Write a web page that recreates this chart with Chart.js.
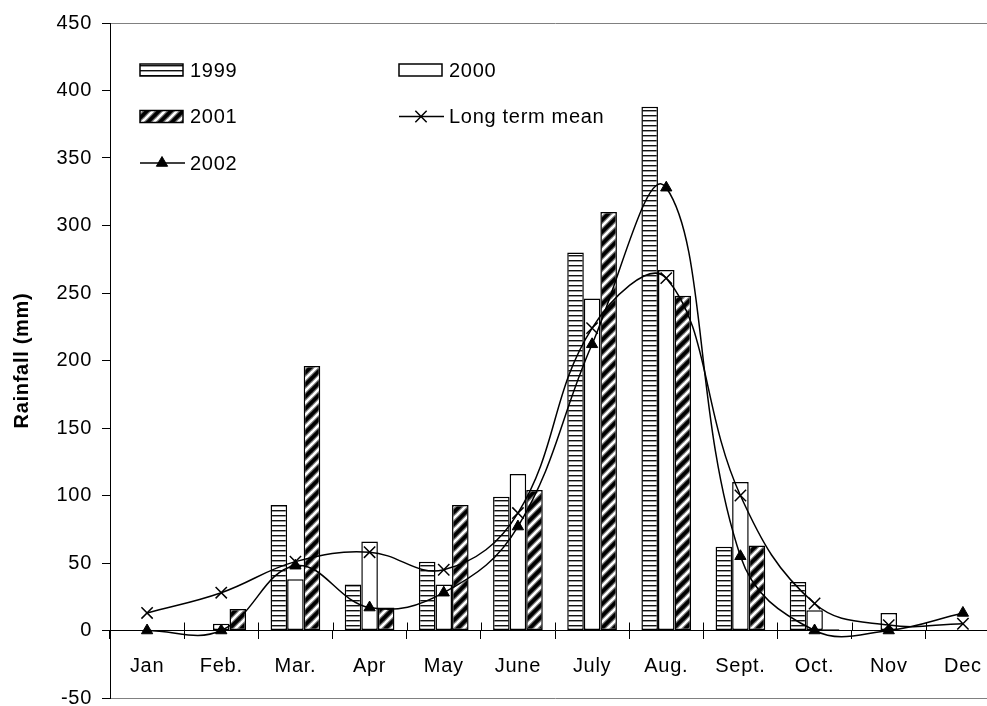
<!DOCTYPE html>
<html>
<head>
<meta charset="utf-8">
<title>Monthly rainfall</title>
<script src="https://cdn.jsdelivr.net/npm/chart.js@4/dist/chart.umd.js"></script>
<style>
  html, body { margin: 0; padding: 0; background: #fff; overflow: hidden; width: 987px; height: 706px; }
  canvas { display: block; }
</style>
</head>
<body>
<canvas id="rain" width="1010" height="720"></canvas>
<script>
// Monthly rainfall (mm)
const months = ['Jan', 'Feb.', 'Mar.', 'Apr', 'May', 'June', 'July', 'Aug.', 'Sept.', 'Oct.', 'Nov', 'Dec'];
const rain1999 = [0, 0, 93, 34, 51, 99, 280, 388, 62, 36, 0, 0];
const rain2000 = [0, 5, 38, 66, 34, 116, 246, 267, 110, 15, 13, 0];
const rain2001 = [0, 16, 196, 17, 93, 104, 310, 248, 63, 1, 0, 0];
const longTermMean = [13, 28, 51, 58, 45, 87, 224, 261, 100, 20, 4, 5];
const rain2002 = [0, 0, 48, 17, 28, 77, 212, 328, 55, 0, 0, 13];
const yMin = -50, yMax = 450, yStep = 50;

const FONT = '"Liberation Sans", Arial, Helvetica, sans-serif';
const FONT_SIZE = 20;
const SPACING = '0.7px';

// Fill patterns for the bar series
function horizontalLines() {
  const c = document.createElement('canvas');
  c.width = 8; c.height = 5;
  const g = c.getContext('2d');
  g.fillStyle = '#fff'; g.fillRect(0, 0, 8, 5);
  g.fillStyle = '#111'; g.fillRect(0, 0, 8, 1);
  g.fillStyle = '#9a9a9a'; g.fillRect(0, 1, 8, 1);
  return g.createPattern(c, 'repeat');
}
function diagonalStripes() {
  const n = 12;
  const c = document.createElement('canvas');
  c.width = n; c.height = n;
  const g = c.getContext('2d');
  g.fillStyle = '#000'; g.fillRect(0, 0, n, n);
  const segs = [[-3, n + 3, n + 3, -3], [-3, 3, 3, -3], [n - 3, n + 3, n + 3, n - 3]];
  [['#6a6a6a', 5], ['#fff', 2.6]].forEach(([col, w]) => {
    g.strokeStyle = col; g.lineWidth = w;
    segs.forEach(s => { g.beginPath(); g.moveTo(s[0], s[1]); g.lineTo(s[2], s[3]); g.stroke(); });
  });
  return g.createPattern(c, 'repeat');
}

const spacingPlugin = {
  id: 'textSpacing',
  beforeUpdate(chart) { chart.ctx.letterSpacing = SPACING; },
  beforeDraw(chart) { chart.ctx.letterSpacing = SPACING; }
};

// Tick marks crossing the category axis at category boundaries (upper half)
const crossTicks = {
  id: 'crossTicks',
  afterDatasetsDraw(chart) {
    const xs = chart.scales.x, ys = chart.scales.y, ctx = chart.ctx;
    const y0 = ys.getPixelForValue(0);
    const half = (xs.getPixelForValue(1) - xs.getPixelForValue(0)) / 2;
    ctx.save();
    ctx.strokeStyle = '#000'; ctx.lineWidth = 1;
    ctx.beginPath();
    for (let i = 0; i <= months.length; i++) {
      const x = Math.round(xs.getPixelForValue(i) - half) + 0.5;
      ctx.moveTo(x, y0 - 8); ctx.lineTo(x, y0);
    }
    ctx.stroke();
    ctx.restore();
  }
};

function drawMarker(ctx, style, x, y, r) {
  ctx.beginPath();
  if (style === 'crossRot') {
    const d = r * Math.SQRT1_2;
    ctx.moveTo(x - d, y - d); ctx.lineTo(x + d, y + d);
    ctx.moveTo(x - d, y + d); ctx.lineTo(x + d, y - d);
    ctx.stroke();
  } else if (style === 'triangle') {
    const s = r * Math.sqrt(3);
    ctx.moveTo(x, y - r); ctx.lineTo(x + s / 2, y + r / 2); ctx.lineTo(x - s / 2, y + r / 2);
    ctx.closePath(); ctx.fill(); ctx.stroke();
  }
}

// Two-column legend inside the plot area
const gridLegend = {
  id: 'gridLegend',
  afterDraw(chart) {
    const ctx = chart.ctx, area = chart.chartArea;
    const x0 = area.left + 30, y0 = area.top + 47, colGap = 259, rowGap = 46.5;
    ctx.save();
    ctx.letterSpacing = SPACING;
    ctx.font = FONT_SIZE + 'px ' + FONT;
    ctx.textBaseline = 'middle';
    chart.data.datasets.forEach((ds, i) => {
      const x = x0 + (i % 2) * colGap, y = y0 + Math.floor(i / 2) * rowGap;
      ctx.strokeStyle = '#000'; ctx.fillStyle = '#000';
      if (ds.type === 'bar') {
        ctx.fillStyle = ds.backgroundColor;
        ctx.fillRect(x, y - 6, 43, 12);
        ctx.lineWidth = 1.5;
        ctx.strokeRect(x, y - 6, 43, 12);
      } else {
        ctx.lineWidth = 1.5;
        ctx.beginPath(); ctx.moveTo(x, y); ctx.lineTo(x + 45, y); ctx.stroke();
        ctx.fillStyle = '#000';
        ctx.lineWidth = ds.pointBorderWidth;
        drawMarker(ctx, ds.pointStyle, x + 22, y, ds.pointRadius);
      }
      ctx.fillStyle = '#000';
      ctx.fillText(ds.label, x + 50, y + 1);
    });
    ctx.restore();
  }
};

Chart.defaults.font.family = FONT;
Chart.defaults.font.size = FONT_SIZE;
Chart.defaults.color = '#000';

const barCommon = { type: 'bar', borderColor: '#000', borderWidth: 1.5, borderSkipped: false,
  barPercentage: 1, categoryPercentage: 0.67, order: 2 };
const lineCommon = { type: 'line', borderColor: '#000', borderWidth: 1.5, tension: 0.4, fill: false,
  pointBorderColor: '#000', pointBackgroundColor: '#000', order: 1 };

new Chart(document.getElementById('rain'), {
  type: 'bar',
  data: {
    labels: months,
    datasets: [
      { ...barCommon, label: '1999', data: rain1999, backgroundColor: horizontalLines() },
      { ...barCommon, label: '2000', data: rain2000, backgroundColor: '#fff' },
      { ...barCommon, label: '2001', data: rain2001, backgroundColor: diagonalStripes() },
      { ...lineCommon, label: 'Long term mean', data: longTermMean, pointStyle: 'crossRot', pointRadius: 8, pointBorderWidth: 1.5 },
      { ...lineCommon, label: '2002', data: rain2002, pointStyle: 'triangle', pointRadius: 6.5, pointBorderWidth: 1 }
    ]
  },
  options: {
    responsive: false,
    devicePixelRatio: 1,
    animation: false,
    events: [],
    layout: { padding: { left: 0, right: 10, top: 23, bottom: 21 } },
    plugins: { legend: { display: false }, tooltip: { enabled: false } },
    scales: {
      x: {
        position: { y: 0 },
        offset: true,
        ticks: { padding: 16, maxRotation: 0, autoSkip: false, color: '#000' },
        grid: { offset: true, drawOnChartArea: false, tickLength: 8, color: '#000', lineWidth: 1 },
        border: { color: '#000', width: 1 }
      },
      y: {
        min: yMin, max: yMax,
        ticks: { stepSize: yStep, padding: 10, color: '#000' },
        grid: {
          color: c => (c.tick && (c.tick.value === yMax || c.tick.value === yMin)) ? '#808080' : 'rgba(0,0,0,0)',
          tickColor: '#000', tickLength: 8, lineWidth: 1
        },
        border: { color: '#000', width: 1 },
        title: { display: true, text: 'Rainfall (mm)', color: '#000', font: { size: FONT_SIZE, weight: 'bold' }, padding: { top: 10, bottom: 0 } },
        afterFit: s => { s.width = 110; }
      }
    }
  },
  plugins: [spacingPlugin, crossTicks, gridLegend]
});
</script>
</body>
</html>
